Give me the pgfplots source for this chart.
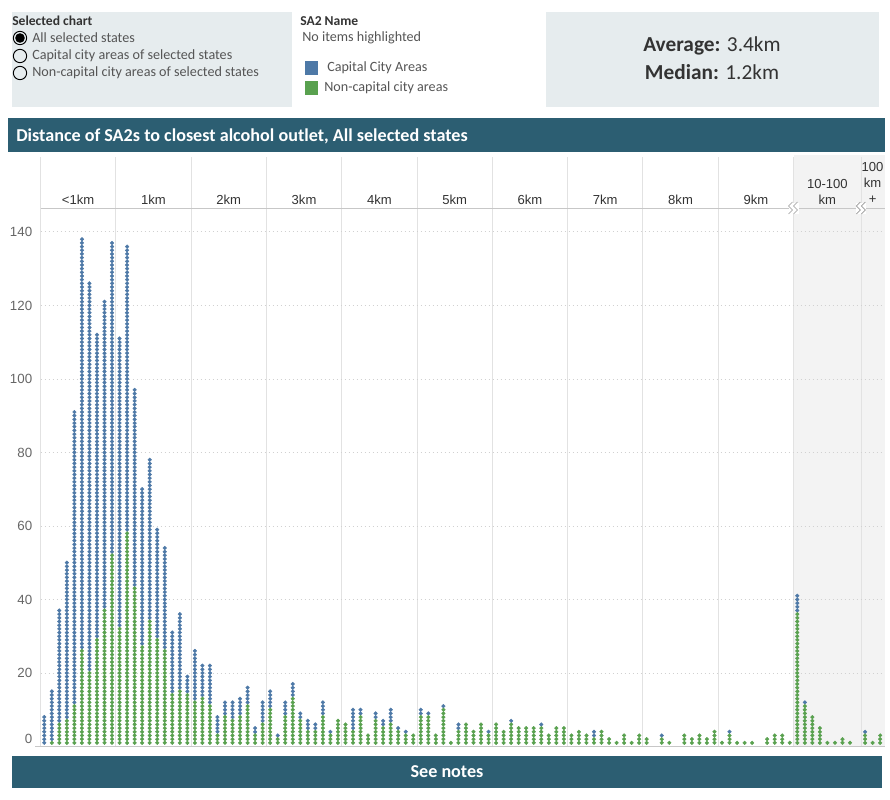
\documentclass[border=0pt]{standalone}
\usepackage{pgfplots}
\pgfplotsset{compat=1.18}
\usepackage{pgfplotstable}
\usepackage{fontspec}
\setmainfont{Carlito}
\newfontfamily\ticksf{Liberation Sans}
\definecolor{capblue}{HTML}{4E79A7}
\definecolor{ncgreen}{HTML}{59A14F}
\definecolor{barteal}{HTML}{2C5E72}
\definecolor{panelbg}{HTML}{E6ECEE}
\definecolor{farbg}{HTML}{F3F3F3}
\definecolor{sepgray}{HTML}{E2E2E2}
\definecolor{txtdark}{HTML}{333333}
\definecolor{txtgray}{HTML}{555555}

% Distance bins of 0.1 km (0-99), then 10 km bins for 10-100 km (100-108), then 100 km + (109-111)
% tot = all SA2s in the bin, grn = non-capital city SA2s
\pgfplotstableread{
i tot grn
0 8 0
1 15 1
2 37 6
3 50 7
4 91 11
5 138 26
6 126 20
7 112 29
8 121 37
9 137 52
10 111 32
11 136 58
12 97 43
13 70 27
14 78 34
15 59 29
16 54 26
17 31 14
18 36 15
19 19 14
20 26 12
21 22 13
22 22 11
23 8 3
24 12 8
25 12 7
26 13 8
27 16 11
28 5 3
29 12 6
30 15 10
31 3 2
32 12 8
33 17 13
34 9 7
35 7 4
36 6 4
37 12 8
38 4 3
39 7 7
40 6 6
41 10 4
42 10 8
43 3 3
44 9 7
45 7 5
46 10 6
47 5 4
48 4 3
49 3 3
50 10 8
51 9 8
52 3 3
53 11 10
54 1 1
55 6 4
56 6 6
57 4 4
58 6 6
59 4 3
60 6 6
61 4 4
62 7 6
63 5 5
64 5 5
65 5 5
66 6 5
67 3 3
68 5 5
69 5 5
70 3 3
71 4 4
72 3 3
73 4 2
74 4 4
75 2 2
76 1 1
77 3 3
78 1 1
79 3 3
80 2 2
81 0 0
82 3 2
83 1 1
84 0 0
85 3 3
86 2 2
87 3 3
88 2 2
89 4 4
90 1 1
91 4 3
92 1 1
93 1 1
94 1 1
95 0 0
96 2 2
97 3 3
98 3 3
99 1 1
100 41 36
101 12 11
102 8 8
103 5 5
104 1 1
105 1 1
106 2 2
107 1 1
108 0 0
109 4 3
110 1 1
111 3 3
}\disttable

\begin{document}
\begin{tikzpicture}
% ---------- background and header (pixel grid, y downwards) ----------
\begin{scope}[x=0.75pt,y=-0.75pt]
  \path (0,0) rectangle (890,800);

  % filter box
  \fill[panelbg] (12,12) rectangle (292,107);
  \node[anchor=west,inner sep=0pt,font=\fontsize{10.2}{12}\selectfont\bfseries,text=txtdark] at (12,21) {Selected chart};
  \draw[black,line width=0.7pt] (20,38) circle[radius=5pt];
  \fill[black] (20,38) circle[radius=3.6pt];
  \draw[black,line width=0.7pt] (20,56) circle[radius=5pt];
  \draw[black,line width=0.7pt] (20,73) circle[radius=5pt];
  \begin{scope}[every node/.style={anchor=west,inner sep=0pt,font=\fontsize{10.6}{12}\selectfont,text=txtgray}]
    \node at (32,38) {All selected states};
    \node at (32,56) {Capital city areas of selected states};
    \node at (32,73) {Non-capital city areas of selected states};
  \end{scope}

  % legend block
  \node[anchor=west,inner sep=0pt,font=\fontsize{10.2}{12}\selectfont\bfseries,text=txtdark] at (300,21) {SA2 Name};
  \node[anchor=west,inner sep=0pt,font=\fontsize{10.6}{12}\selectfont,text=txtgray] at (302,38) {No items highlighted};
  \fill[capblue] (305,61) rectangle (318,75);
  \fill[ncgreen] (305,81) rectangle (318,95);
  \node[anchor=west,inner sep=0pt,font=\fontsize{10.6}{12}\selectfont,text=txtgray] at (327,68) {Capital City Areas};
  \node[anchor=west,inner sep=0pt,font=\fontsize{10.6}{12}\selectfont,text=txtgray] at (324,88) {Non-capital city areas};

  % summary box
  \fill[panelbg] (546,12) rectangle (879,107);
  \node[inner sep=0pt,font=\fontsize{16}{19}\selectfont,text=txtdark] at (712,46) {\textbf{Average:} 3.4km};
  \node[inner sep=0pt,font=\fontsize{16}{19}\selectfont,text=txtdark] at (712,72) {\textbf{Median:} 1.2km};

  % title bar
  \fill[barteal] (8,118) rectangle (885,152);
  \node[anchor=west,inner sep=0pt,font=\fontsize{13.6}{15}\selectfont\bfseries,text=white] at (16,136)
    {Distance of SA2s to closest alcohol outlet, All selected states};

  % shaded panels for the wide bins
  \fill[farbg] (793.5,155) rectangle (885,746.5);

  % panel separators
  \foreach \k in {0,...,10} {
    \draw[sepgray,line width=0.75pt] ({40.5+75.3*\k},157) -- ({40.5+75.3*\k},746.5);
  }
  \draw[sepgray,line width=0.75pt] (861.3,157) -- (861.3,746.5);

  % column headers
  \begin{scope}[every node/.style={inner sep=0pt,font=\ticksf\fontsize{9.8}{11}\selectfont,text=txtdark}]
    \node at ({40.5+75.3*0.5},200) {<1km};
    \foreach \k in {1,...,9} {
      \node at ({40.5+75.3*(\k+0.5)},200) {\k km};
    }
    \node at (827.4,184) {10-100};
    \node at (827.4,199.5) {km};
    \node at (872.6,167) {100};
    \node at (872.6,183) {km};
    \node at (872.6,199.5) {+};
  \end{scope}
\end{scope}

% ---------- dot histogram ----------
\begin{axis}[
  scale only axis,
  width=632.55pt, height=403.875pt,
  at={(30.375pt,-559.875pt)}, anchor=south west,
  xmin=0, xmax=112, ymin=0, ymax=146.5,
  axis line style={draw=none},
  xtick=\empty,
  ytick={20,40,...,140},
  major tick length=0pt,
  ymajorgrids,
  grid style={draw=black!18, line width=0.6pt, dash pattern=on 0.75pt off 2.25pt},
  /pgf/number format/assume math mode=true,
  yticklabel style={font=\ticksf\fontsize{10}{11}\selectfont, text=black!60, anchor=east, inner sep=0pt, xshift=-6pt},
  unbounded coords=discard,
  clip=false,
]
  % capital city SA2s stacked above the non-capital ones
  \pgfplotsinvokeforeach{1,...,138}{
    \addplot[capblue, only marks, mark=*, mark size=1.38pt, line width=0.3pt]
      table[x expr=\thisrow{i}+0.5,
            y expr={(\thisrow{tot}>=#1 && \thisrow{grn}<#1) ? #1 : nan}] {\disttable};
  }
  \pgfplotsinvokeforeach{1,...,58}{
    \addplot[ncgreen, only marks, mark=*, mark size=1.38pt, line width=0.3pt]
      table[x expr=\thisrow{i}+0.5,
            y expr={(\thisrow{grn}>=#1) ? #1 : nan}] {\disttable};
  }
  \node[anchor=east, inner sep=0pt, xshift=-6pt, yshift=5.6pt,
        font=\ticksf\fontsize{10}{11}\selectfont, text=black!60] at (axis cs:0,0) {0};
\end{axis}

% ---------- axis lines, breaks and footer ----------
\begin{scope}[x=0.75pt,y=-0.75pt]
  \draw[black!22,line width=0.75pt] (40.5,208) -- (885,208);
  \draw[black!22,line width=0.75pt] (35,746.5) -- (885,746.5);
  \foreach \bx in {793.5,861.3} {
    \fill[white] (\bx-5,203) rectangle (\bx+5,214);
    \draw[black!40,line width=0.5pt] (\bx-1,202) -- (\bx-5,206) -- (\bx-1,210) -- (\bx-5,214);
    \draw[black!40,line width=0.5pt] (\bx+4,202) -- (\bx,206) -- (\bx+4,210) -- (\bx,214);
  }
  \fill[barteal] (12,756) rectangle (882,788);
  \node[inner sep=0pt,font=\fontsize{13.6}{15}\selectfont\bfseries,text=white] at (447,772) {See notes};
\end{scope}
\end{tikzpicture}
\end{document}
